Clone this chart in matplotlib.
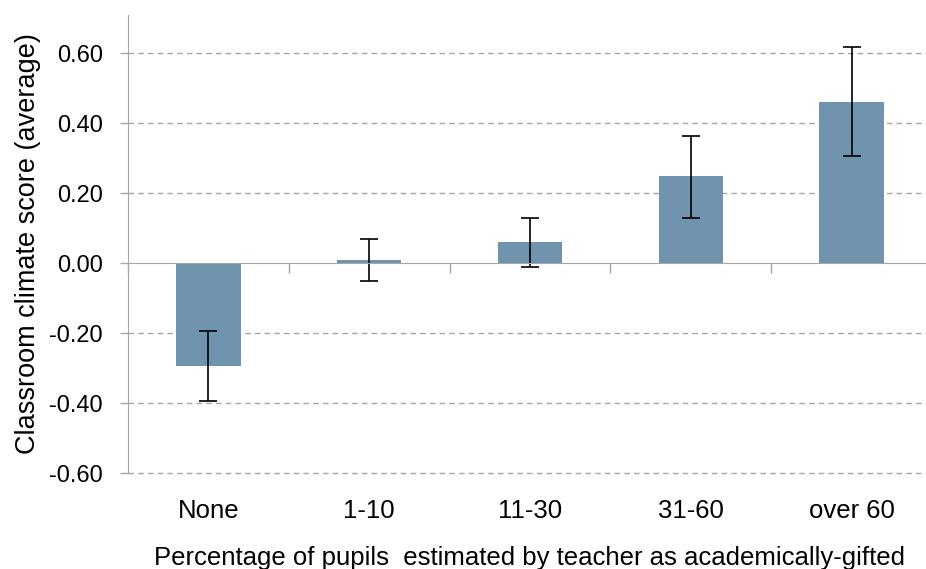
import numpy as np
import matplotlib.pyplot as plt

plt.rcParams['font.family'] = ['Liberation Sans', 'DejaVu Sans']

# Data
categories = ['None', '1-10', '11-30', '31-60', 'over 60']
means = [-0.295, 0.01, 0.06, 0.25, 0.46]
err_low = [-0.395, -0.05, -0.01, 0.13, 0.305]
err_high = [-0.195, 0.07, 0.128, 0.362, 0.618]
yticks = [-0.60, -0.40, -0.20, 0.00, 0.20, 0.40, 0.60]

bar_color = '#7094ae'
grid_color = '#a6a6a6'

fig = plt.figure(figsize=(9.26, 5.69), dpi=100)
ax = fig.add_axes([128 / 926, 1 - 473 / 569, 804 / 926, 458 / 569])

x = np.arange(len(categories))
yerr = [np.array(means) - np.array(err_low), np.array(err_high) - np.array(means)]
ax.bar(x, means, width=0.4, color=bar_color, zorder=3)
ax.errorbar(x, means, yerr=yerr, fmt='none', ecolor='black', elinewidth=1.2,
            capsize=6.5, capthick=1.2, zorder=4)

ax.set_xlim(-0.5, len(categories) - 0.5)
ax.set_ylim(-0.60, 0.709)

# y axis
ax.set_yticks(yticks)
ax.set_yticklabels([f'{v:.2f}' for v in yticks], fontsize=17)
ax.tick_params(axis='y', direction='out', length=6, width=1, color=grid_color, pad=12)
for v in yticks:
    if v != 0:
        ax.axhline(v, color=grid_color, lw=1, ls=(0, (4, 3)), zorder=1, clip_on=False)
ax.set_ylabel('Classroom climate score (average)', fontsize=19.5, labelpad=6)

# zero axis line with boundary ticks
ax.spines['bottom'].set_position(('data', 0))
ax.spines['bottom'].set_color(grid_color)
ax.spines['bottom'].set_zorder(5)
ax.set_xticks(np.arange(len(categories) + 1) - 0.5)
ax.set_xticklabels([])
ax.tick_params(axis='x', direction='out', length=7, width=1, color=grid_color)

for s in ['top', 'right']:
    ax.spines[s].set_visible(False)
ax.spines['left'].set_color(grid_color)

# category labels at the bottom
sec = ax.secondary_xaxis(0)
sec.set_xticks(x)
sec.set_xticklabels(categories, fontsize=18.5)
sec.tick_params(length=0, pad=19)
sec.spines['bottom'].set_visible(False)
sec.set_xlabel('Percentage of pupils  estimated by teacher as academically-gifted',
               fontsize=18.5, labelpad=16)

fig.savefig('out.png', dpi=100)
